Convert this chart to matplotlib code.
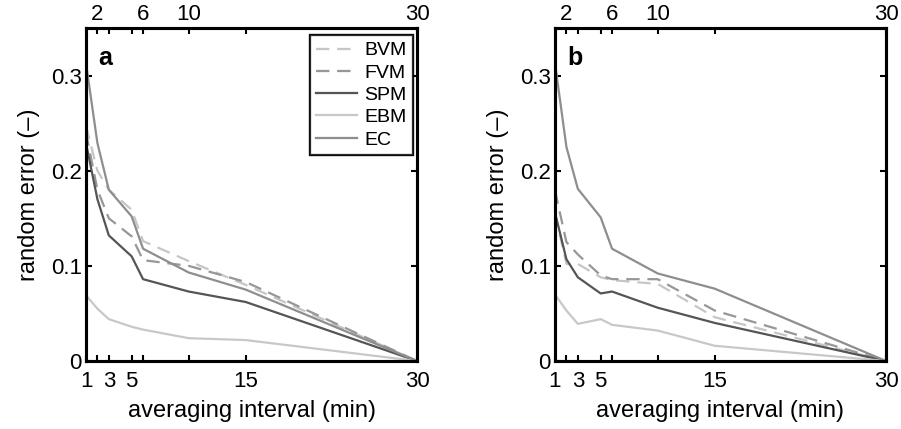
import matplotlib
matplotlib.use("Agg")
import matplotlib.pyplot as plt

plt.rcParams['font.family'] = ['Liberation Sans', 'DejaVu Sans']

x = [1, 2, 3, 5, 6, 10, 15, 30]
series_names = ["BVM", "FVM", "SPM", "EBM", "EC"]

a_BVM = [0.247, 0.200, 0.180, 0.159, 0.126, 0.105, 0.080, 0.0]
a_FVM = [0.240, 0.180, 0.150, 0.131, 0.106, 0.100, 0.083, 0.0]
a_SPM = [0.229, 0.170, 0.132, 0.110, 0.086, 0.073, 0.062, 0.0]
a_EBM = [0.069, 0.055, 0.044, 0.036, 0.033, 0.024, 0.022, 0.0]
a_EC  = [0.313, 0.229, 0.180, 0.152, 0.118, 0.093, 0.075, 0.0]

b_BVM = [0.155, 0.102, 0.102, 0.088, 0.085, 0.081, 0.046, 0.0]
b_FVM = [0.179, 0.125, 0.112, 0.090, 0.086, 0.086, 0.053, 0.0]
b_SPM = [0.156, 0.107, 0.088, 0.071, 0.073, 0.056, 0.040, 0.0]
b_EBM = [0.070, 0.053, 0.039, 0.044, 0.038, 0.032, 0.016, 0.0]
b_EC  = [0.313, 0.225, 0.181, 0.151, 0.118, 0.092, 0.076, 0.0]

bottom_ticks = [1, 3, 5, 15, 30]
top_ticks = [2, 6, 10, 30]
minor_ticks = [2, 3, 5, 6, 10, 15]
yticks = [0, 0.1, 0.2, 0.3]
ytick_labels = ["0", "0.1", "0.2", "0.3"]

styles = {
    "BVM": dict(color="#c6c6c6", linestyle=(0, (6, 3.5))),
    "FVM": dict(color="#979797", linestyle=(0, (6, 3.5))),
    "SPM": dict(color="#555555", linestyle="-"),
    "EBM": dict(color="#c8c8c8", linestyle="-"),
    "EC":  dict(color="#8e8e8e", linestyle="-"),
}

fig = plt.figure(figsize=(9.01, 4.29), dpi=100)
W, H = 901, 429
panels = [
    ("a", (86, 28, 417, 361), [a_BVM, a_FVM, a_SPM, a_EBM, a_EC]),
    ("b", (555, 28, 886, 361), [b_BVM, b_FVM, b_SPM, b_EBM, b_EC]),
]

TICK_FS = 16
LABEL_FS = 17

for label, (l, t, r, b), data in panels:
    ax = fig.add_axes([l / W, 1 - b / H, (r - l) / W, (b - t) / H])
    for name, vals in zip(series_names, data):
        ax.plot(x, vals, label=name, linewidth=1.6, **styles[name])
    ax.set_xlim(1, 30)
    ax.set_ylim(0, 0.35)
    xt = sorted(set(bottom_ticks + minor_ticks))
    ax.set_xticks(xt)
    ax.set_xticklabels([str(v) if v in bottom_ticks else "" for v in xt])
    ax.set_yticks(yticks)
    ax.set_yticklabels(ytick_labels)
    ax.tick_params(direction="in", length=4, width=1.5, top=True, right=True,
                   labelsize=TICK_FS)
    ax.tick_params(axis="x", pad=7)
    ax.tick_params(axis="y", pad=3)
    for s in ax.spines.values():
        s.set_linewidth(2.2)
    ax2 = ax.twiny()
    ax2.set_xlim(1, 30)
    xt2 = sorted(set(top_ticks + minor_ticks))
    ax2.set_xticks(xt2)
    ax2.set_xticklabels([str(v) if v in top_ticks else "" for v in xt2])
    ax2.tick_params(direction="in", length=4, width=1.5, labelsize=TICK_FS, pad=2)
    for s in ax2.spines.values():
        s.set_linewidth(2.2)
    ax.set_xlabel("averaging interval (min)", fontsize=LABEL_FS, labelpad=6)
    ax.set_ylabel("random error (\u2013)", fontsize=LABEL_FS, labelpad=8)
    ax.text(0.036, 0.889, label, transform=ax.transAxes, fontsize=18,
            fontweight="bold", va="baseline", ha="left")
    leg = ax.legend(loc="upper right", bbox_to_anchor=((413 - l) / (r - l), 1 - (35 - t) / (b - t)),
                    borderaxespad=0, fontsize=14, frameon=True, fancybox=False,
                    handlelength=2.1, handletextpad=0.35, labelspacing=0.24,
                    borderpad=0.35)
    leg.get_frame().set_edgecolor("black")
    leg.get_frame().set_linewidth(1.6)

fig.savefig("out.png", dpi=100)
